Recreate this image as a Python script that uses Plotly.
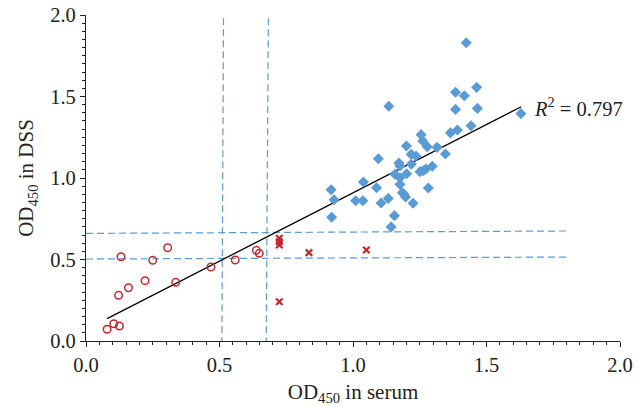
import plotly.graph_objects as go

# Blue diamonds (OD450 serum vs DSS)
blue_x = [1.424, 1.463, 1.384, 1.417, 1.134, 1.466, 1.384, 1.629, 1.442, 1.391, 1.365, 1.255,
          1.261, 1.200, 1.278, 1.315, 1.346, 1.218, 1.236, 1.095, 1.172, 1.176, 1.218, 1.297,
          1.273, 1.263, 1.251, 1.201, 1.157, 1.176, 1.039, 1.176, 1.088, 1.282, 0.918, 1.185,
          1.191, 1.197, 0.929, 1.010, 1.037, 1.132, 1.105, 1.225, 0.920, 1.155, 1.143]
blue_y = [1.830, 1.556, 1.526, 1.505, 1.440, 1.427, 1.421, 1.395, 1.321, 1.294, 1.277, 1.266,
          1.227, 1.196, 1.192, 1.188, 1.147, 1.145, 1.135, 1.118, 1.092, 1.074, 1.084, 1.072,
          1.055, 1.045, 1.039, 1.026, 1.023, 1.002, 0.975, 0.961, 0.940, 0.939, 0.928, 0.910,
          0.900, 0.883, 0.867, 0.861, 0.861, 0.875, 0.847, 0.845, 0.759, 0.769, 0.700]

# Red open circles
circ_x = [0.079, 0.104, 0.125, 0.122, 0.131, 0.159, 0.221, 0.250, 0.306, 0.336, 0.468, 0.559, 0.638, 0.649]
circ_y = [0.072, 0.106, 0.092, 0.280, 0.517, 0.327, 0.370, 0.495, 0.572, 0.360, 0.454, 0.497, 0.556, 0.538]

# Red crosses
cross_x = [0.724, 0.724, 0.724, 0.835, 1.050, 0.724]
cross_y = [0.630, 0.609, 0.589, 0.542, 0.558, 0.241]

# Linear trend line endpoints
fit_x = [0.079, 1.630]
fit_y = [0.137, 1.437]
r2_text = "<i>R</i><sup>2</sup> = 0.797"

# Cut-off (dashed) lines
vline1_x = [0.515, 0.509]
vline2_x = [0.683, 0.675]
vline_y = [1.98, 0.0]
hline_x = [0.0, 1.80]
hline1_y = [0.660, 0.675]
hline2_y = [0.503, 0.515]

x_ticks = [0.0, 0.5, 1.0, 1.5, 2.0]
y_ticks = [0.0, 0.5, 1.0, 1.5, 2.0]

BLUE = "#5B9BD5"
RED = "#C0282D"
TXT = "#222222"
FONT = "Liberation Serif"

fig = go.Figure()

dash_style = dict(color=BLUE, width=1.2, dash="7px,4px")
for xs, ys in [(vline1_x, vline_y), (vline2_x, vline_y), (hline_x, hline1_y), (hline_x, hline2_y)]:
    fig.add_trace(go.Scatter(x=xs, y=ys, mode="lines", line=dash_style, hoverinfo="skip", showlegend=False))

fig.add_trace(go.Scatter(x=fit_x, y=fit_y, mode="lines", line=dict(color="black", width=1.3), showlegend=False))

fig.add_trace(go.Scatter(x=blue_x, y=blue_y, mode="markers",
                         marker=dict(symbol="diamond", size=8.5, color=BLUE), showlegend=False))
fig.add_trace(go.Scatter(x=circ_x, y=circ_y, mode="markers",
                         marker=dict(symbol="circle-open", size=7.5, color=RED, line=dict(width=1.5)),
                         showlegend=False))
fig.add_trace(go.Scatter(x=cross_x, y=cross_y, mode="markers",
                         marker=dict(symbol="x-thin-open", size=6.5, color=RED, line=dict(width=2.2, color=RED)),
                         showlegend=False))

fig.add_annotation(x=1.672, y=1.436, text=r2_text, showarrow=False, xanchor="left", yanchor="middle",
                   font=dict(family=FONT, size=20.5, color=TXT))

axis_common = dict(
    showline=True, linecolor=TXT, linewidth=1.2, showgrid=False, zeroline=False,
    ticks="outside", ticklen=5, tickcolor=TXT, tickwidth=1.2,
    tickformat=".1f", tickfont=dict(family=FONT, size=20.5, color=TXT),
    minor=dict(dtick=0.05, ticks="outside", ticklen=3, tickcolor=TXT, tickwidth=1),
    automargin=False,
)

fig.update_xaxes(range=[0, 2.0], tickvals=x_ticks, **axis_common,
                 title=dict(text="OD<sub>450</sub> in serum", font=dict(family=FONT, size=21, color=TXT), standoff=9))
fig.update_yaxes(range=[0, 2.0], tickvals=y_ticks, **axis_common,
                 title=dict(text="OD<sub>450</sub> in DSS", font=dict(family=FONT, size=21, color=TXT), standoff=10))

fig.update_layout(
    width=638, height=406,
    margin=dict(l=86, r=18, t=15, b=65),
    plot_bgcolor="white", paper_bgcolor="white",
    showlegend=False,
)

# Remove the browser's default 8px body margin so the 638x406 figure fills the window exactly
fig.write_html("out.html", config={"displayModeBar": False},
               post_script="document.body.style.margin='0';document.body.style.overflow='hidden';")
